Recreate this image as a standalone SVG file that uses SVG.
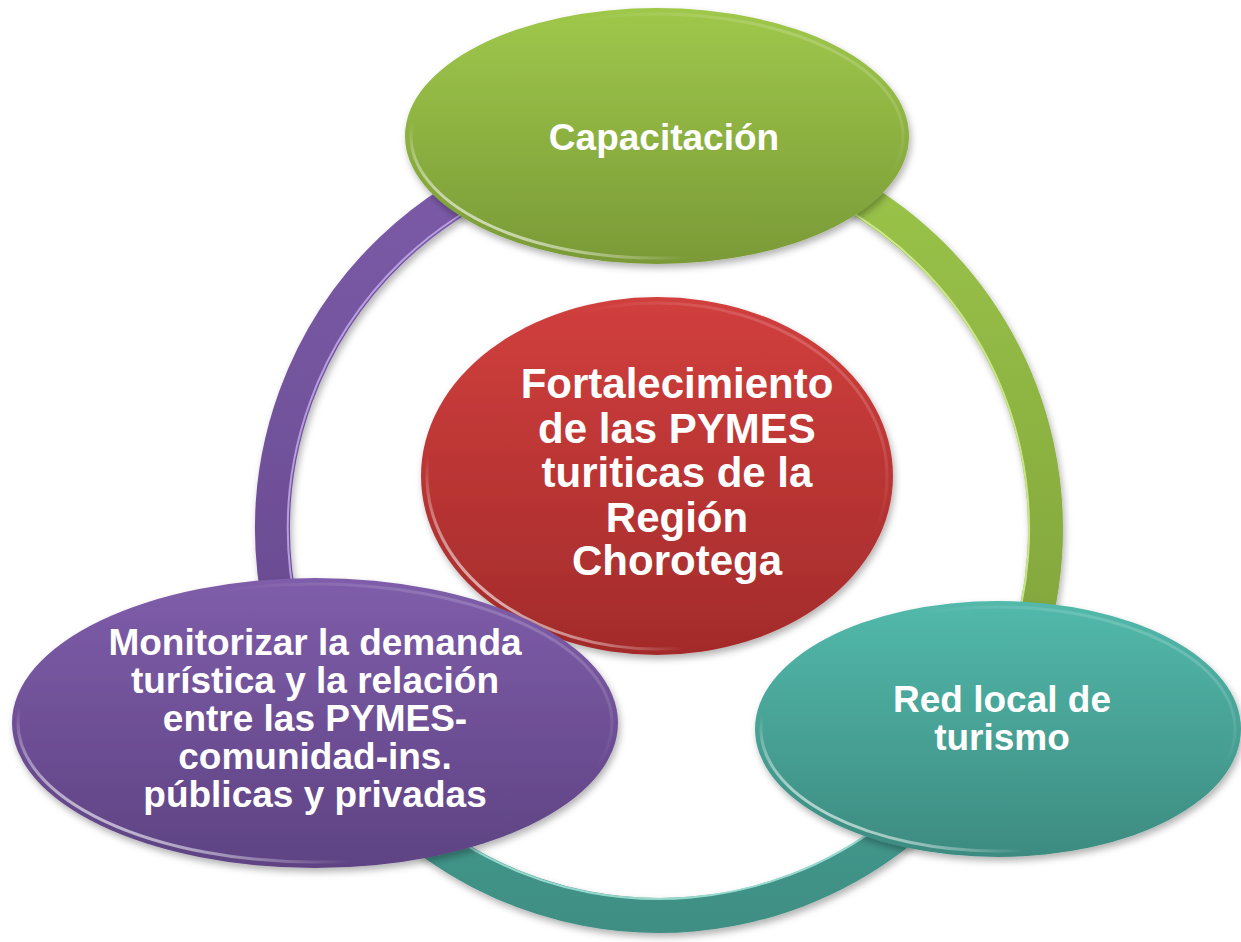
<svg xmlns="http://www.w3.org/2000/svg" width="1241" height="942" viewBox="0 0 1241 942">
<defs>
<filter id="sh" x="-10%" y="-10%" width="120%" height="125%">
<feDropShadow dx="2" dy="4" stdDeviation="3.5" flood-color="#000" flood-opacity="0.3"/>
</filter>
<linearGradient id="gGreen" x1="0" y1="0" x2="0" y2="1"><stop offset="0" stop-color="#9fc84b"/><stop offset="1" stop-color="#7a9a37"/></linearGradient>
<linearGradient id="gRed" x1="0" y1="0" x2="0" y2="1"><stop offset="0" stop-color="#d13f3d"/><stop offset="1" stop-color="#a32b2b"/></linearGradient>
<linearGradient id="gPurple" x1="0" y1="0" x2="0" y2="1"><stop offset="0" stop-color="#7f5daa"/><stop offset="1" stop-color="#5e4383"/></linearGradient>
<linearGradient id="gTeal" x1="0" y1="0" x2="0" y2="1"><stop offset="0" stop-color="#52b9ab"/><stop offset="1" stop-color="#3d8b80"/></linearGradient>
<linearGradient id="rGreen" gradientUnits="userSpaceOnUse" x1="0" y1="160" x2="0" y2="660"><stop offset="0" stop-color="#9ac449"/><stop offset="1" stop-color="#82a53c"/></linearGradient>
<linearGradient id="rPurple" gradientUnits="userSpaceOnUse" x1="0" y1="160" x2="0" y2="720"><stop offset="0" stop-color="#7c5ba8"/><stop offset="1" stop-color="#66498d"/></linearGradient>
<linearGradient id="rTeal" gradientUnits="userSpaceOnUse" x1="0" y1="660" x2="0" y2="935"><stop offset="0" stop-color="#47a195"/><stop offset="1" stop-color="#3f8e83"/></linearGradient>
<linearGradient id="hl" x1="1" y1="0" x2="0" y2="1">
<stop offset="0" stop-color="#fff" stop-opacity="0.3"/>
<stop offset="0.35" stop-color="#fff" stop-opacity="0"/>
<stop offset="0.72" stop-color="#fff" stop-opacity="0"/>
<stop offset="0.9" stop-color="#fff" stop-opacity="0.8"/>
<stop offset="1" stop-color="#fff" stop-opacity="0.5"/>
</linearGradient>
</defs>
<style>
.ring{fill:none;stroke-width:35;}
.rhl{fill:none;stroke-width:2;opacity:0.75;}
.hl{fill:none;stroke:url(#hl);stroke-width:3;}
.t{font-family:"Liberation Sans",Arial,sans-serif;font-weight:bold;fill:#fff;text-anchor:middle;}
.s{font-size:37px;}
.c{font-size:42px;}
</style>
<rect width="1241" height="942" fill="#fff"/>
<g id="connectors" filter="url(#sh)">
<path class="ring" stroke="url(#rGreen)" d="M526.8,165.8 A386.5,386.5 0 0 1 1022.2,661.2"/>
<path class="ring" stroke="url(#rTeal)" d="M1022.2,661.2 A386.5,386.5 0 0 1 324.3,722.3"/>
<path class="ring" stroke="url(#rPurple)" d="M324.3,722.3 A386.5,386.5 0 0 1 526.8,165.8"/>
<path class="rhl" stroke="#dff5a8" d="M531.8,180 A371,371 0 0 1 1007,655"/>
<path class="rhl" stroke="#b4f0e6" d="M1007,655 A371,371 0 0 1 338,715"/>
<path class="rhl" stroke="#cdb8f5" d="M338,715 A371,371 0 0 1 531.8,180"/>
</g>
<g id="node-capacitacion">
<ellipse cx="657" cy="136" rx="252" ry="128" fill="url(#gGreen)" filter="url(#sh)"/>
<ellipse cx="657" cy="136" rx="246" ry="122" class="hl"/>
<text class="t s" x="664" y="150">Capacitación</text>
</g>
<g id="node-center">
<ellipse cx="657" cy="476" rx="236" ry="179" fill="url(#gRed)" filter="url(#sh)"/>
<ellipse cx="657" cy="476" rx="230" ry="173" class="hl"/>
<text class="t c" x="677" y="398">Fortalecimiento</text>
<text class="t c" x="677" y="443">de las PYMES</text>
<text class="t c" x="677" y="487">turiticas de la</text>
<text class="t c" x="677" y="532">Región</text>
<text class="t c" x="677" y="575">Chorotega</text>
</g>
<g id="node-monitorizar">
<ellipse cx="315" cy="723" rx="303" ry="145" fill="url(#gPurple)" filter="url(#sh)"/>
<ellipse cx="315" cy="723" rx="297" ry="139" class="hl"/>
<text class="t s" x="315" y="655">Monitorizar la demanda</text>
<text class="t s" x="315" y="693">turística y la relación</text>
<text class="t s" x="315" y="731">entre las PYMES-</text>
<text class="t s" x="315" y="769">comunidad-ins.</text>
<text class="t s" x="315" y="807">públicas y privadas</text>
</g>
<g id="node-red">
<ellipse cx="998" cy="729" rx="243" ry="128" fill="url(#gTeal)" filter="url(#sh)"/>
<ellipse cx="998" cy="729" rx="237" ry="122" class="hl"/>
<text class="t s" x="1002" y="712">Red local de</text>
<text class="t s" x="1002" y="750">turismo</text>
</g>
</svg>
